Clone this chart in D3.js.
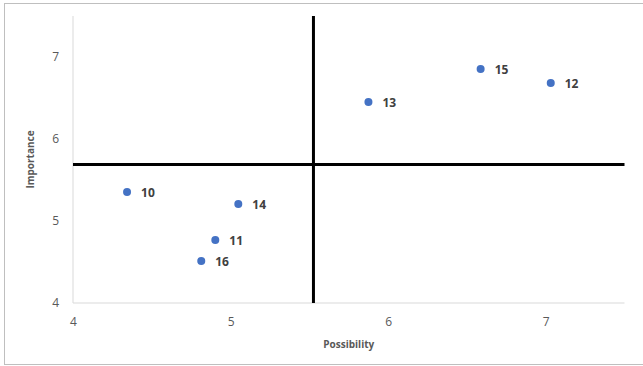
<!DOCTYPE html>
<html><head><meta charset="utf-8">
<script src="https://cdn.jsdelivr.net/npm/d3@7"></script>
<style>body{margin:0;background:#fff;} text{font-family:"Open Sans","Liberation Sans",sans-serif;}</style>
</head><body>
<svg id="c" width="643" height="366"></svg>
<script>
const labels = ["10","14","11","16","13","15","12"];
const possibility = [4.343, 5.049, 4.903, 4.814, 5.875, 6.587, 7.032];
const importance = [5.354, 5.207, 4.768, 4.512, 6.451, 6.854, 6.683];
const xTicks = [4,5,6,7];
const yTicks = [4,5,6,7];
const xDivider = 5.526, yDivider = 5.69;

const svg = d3.select("#c");
svg.append("rect").attr("x",4.5).attr("y",3.5).attr("width",640).attr("height",361)
  .attr("fill","#fff").attr("stroke","#bfbfbf");

const x = d3.scaleLinear().domain([4,7.5]).range([73,624.5]);
const y = d3.scaleLinear().domain([4,7.5]).range([303,16]);

// axes lines
svg.append("line").attr("x1",x(4)).attr("x2",x(7.5)).attr("y1",y(4)).attr("y2",y(4)).attr("stroke","#d9d9d9");
svg.append("line").attr("x1",x(4)).attr("x2",x(4)).attr("y1",y(4)).attr("y2",y(7.5)).attr("stroke","#d9d9d9");

const xa = svg.append("g").attr("transform",`translate(0,${y(4)})`)
  .call(d3.axisBottom(x).tickValues(xTicks).tickSize(0).tickPadding(14).tickFormat(d3.format("d")));
xa.select(".domain").remove();
xa.selectAll("text").attr("fill","#595959").attr("font-size",12);
const ya = svg.append("g").attr("transform",`translate(${x(4)},0)`)
  .call(d3.axisLeft(y).tickValues(yTicks).tickSize(0).tickPadding(14).tickFormat(d3.format("d")));
ya.select(".domain").remove();
ya.selectAll("text").attr("fill","#595959").attr("font-size",12);

// dividers
svg.append("line").attr("x1",x(xDivider)).attr("x2",x(xDivider)).attr("y1",y(7.5)).attr("y2",y(4))
  .attr("stroke","#000").attr("stroke-width",3);
svg.append("line").attr("x1",x(4)).attr("x2",x(7.5)).attr("y1",y(yDivider)).attr("y2",y(yDivider))
  .attr("stroke","#000").attr("stroke-width",3);

// points
const data = labels.map((l,i)=>({l, px:possibility[i], py:importance[i]}));
svg.selectAll("circle.p").data(data).join("circle").attr("class","p")
  .attr("cx",d=>x(d.px)).attr("cy",d=>y(d.py)).attr("r",4).attr("fill","#4472c4");
svg.selectAll("text.lbl").data(data).join("text").attr("class","lbl")
  .attr("x",d=>x(d.px)+14).attr("y",d=>y(d.py)+5)
  .attr("font-size",12).attr("font-weight","bold").attr("fill","#404040").text(d=>d.l);

// axis titles
svg.append("text").attr("x",(x(4)+x(7.5))/2).attr("y",348).attr("text-anchor","middle")
  .attr("font-size",10).attr("font-weight","bold").attr("fill","#595959").text("Possibility");
svg.append("text").attr("transform",`translate(34,${(y(4)+y(7.5))/2}) rotate(-90)`).attr("text-anchor","middle")
  .attr("font-size",10).attr("font-weight","bold").attr("fill","#595959").text("Importance");
</script>
</body></html>
